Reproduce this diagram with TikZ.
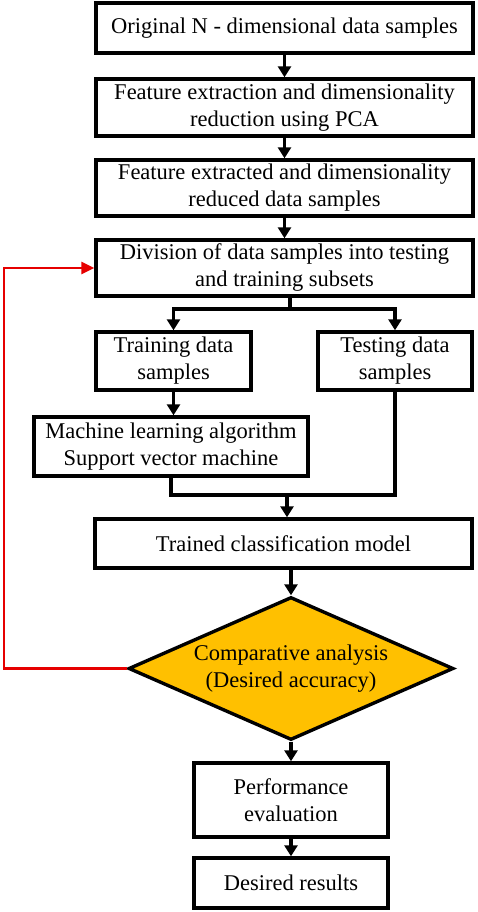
\documentclass[tikz,border=0pt]{standalone}
\usepackage{fontspec}
\setmainfont{Liberation Serif}
\usetikzlibrary{shapes.geometric,arrows.meta}

\begin{document}
\begin{tikzpicture}
[ x = 1pt, y = -1pt,
  every node/.style = {font = \fontsize{22.5}{27}\selectfont, align = center, inner sep = 0pt},
  box/.style = {draw, line width = 3.4pt, fill = white},
  decision/.style = {diamond, draw, line width = 3.4pt, fill = decisioncolor, aspect = 2.27},
  flow/.style = {line width = 3.4pt, -{Triangle[width=13pt,length=11pt]}},
  feedback/.style = {draw = feedbackcolor, line width = 2.6pt, -{Triangle[width=12pt,length=13pt]}}]

% Define colors
\definecolor{decisioncolor}{RGB}{255,192,0}
\definecolor{feedbackcolor}{RGB}{230,0,0}

\useasboundingbox (0,0) rectangle (477,912);

%%%%%%%%%%% DATA PREPARATION
  \node[box, minimum width=377pt, minimum height=50pt] (orig) at (284.5,28) {Original N - dimensional data samples};
  \node[box, minimum width=377pt, minimum height=57pt] (pca) at (284.5,107.5) {Feature extraction and dimensionality\\reduction using PCA};
  \node[box, minimum width=377pt, minimum height=56pt] (reduced) at (284.5,188) {Feature extracted and dimensionality\\reduced data samples};
  \node[box, minimum width=377pt, minimum height=56pt] (divide) at (284.5,268) {Division of data samples into testing\\and training subsets};

%%%%%%%%%%% TRAINING AND TESTING
  \node[box, minimum width=155pt, minimum height=58pt] (train) at (173.5,361) {Training data\\samples};
  \node[box, minimum width=154pt, minimum height=58pt] (test) at (395,361) {Testing data\\samples};
  \node[box, minimum width=274pt, minimum height=59pt] (svm) at (171,446.5) {Machine learning algorithm\\Support vector machine};
  \node[box, minimum width=377pt, minimum height=49pt] (model) at (283.5,543.5) {Trained classification model};

%%%%%%%%%%% EVALUATION
  \node[decision, minimum width=325pt, minimum height=143pt] (compare) at (291,668.5) {Comparative analysis\\(Desired accuracy)};
  \node[box, minimum width=194pt, minimum height=74pt] (perf) at (291,800) {Performance\\evaluation};
  \node[box, minimum width=194pt, minimum height=50pt] (result) at (291,883) {Desired results};

%%%%%%%%%%% CONNECTIONS
  \coordinate (split) at (290,309);
  \coordinate (join) at (287,495);
  \coordinate (back) at (4,668.5);

  \draw[flow] (orig) -- (pca);
  \draw[flow] (pca) -- (reduced);
  \draw[flow] (reduced) -- (divide);
  \draw[line width=3.4pt] (divide.south -| split) -- (split);
  \draw[flow] (split) -| (train.north);
  \draw[flow] (split) -| (test.north);
  \draw[flow] (train) -- (train |- svm.north);
  \draw[line width=3.4pt] (svm.south) |- (join);
  \draw[line width=3.4pt] (test.south) |- (join);
  \draw[flow] (join) -- (join |- model.north);
  \draw[flow] (compare.north |- model.south) -- (compare.north);
  \draw[flow] (compare) -- (perf);
  \draw[flow] (perf) -- (result);
  \draw[feedback] (compare.west) -- (back) |- (divide.west);

\end{tikzpicture}
\end{document}
